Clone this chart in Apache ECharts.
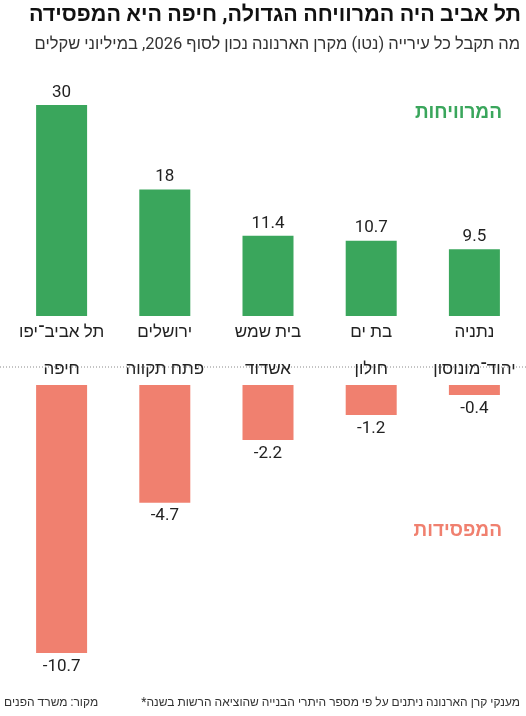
<!DOCTYPE html>
<html>
<head>
<meta charset="utf-8">
<script src="https://cdn.jsdelivr.net/npm/echarts@6/dist/echarts.min.js"></script>
<style>html,body{margin:0;padding:0;background:#fff}#c{width:526px;height:716px}</style>
</head>
<body>
<div id="c"></div>
<script>
// ערים מרוויחות ומפסידות, משמאל לימין כמו בתמונה
var winCities = ['תל אביב־יפו', 'ירושלים', 'בית שמש', 'בת ים', 'נתניה'];
var winValues = [30, 18, 11.4, 10.7, 9.5];
var loseCities = ['חיפה', 'פתח תקווה', 'אשדוד', 'חולון', 'יהוד־מונוסון'];
var loseValues = [-10.7, -4.7, -2.2, -1.2, -0.4];

var FONT = "'Liberation Sans Narrow', 'Roboto', sans-serif";
var GREEN = '#3aa65c';
var RED = '#f0806f';

var chart = echarts.init(document.getElementById('c'));
chart.setOption({
  animation: false,
  textStyle: {fontFamily: FONT},
  grid: [
    {left: 10, width: 520, top: 105, height: 211},
    {left: 10, width: 520, top: 385, height: 268}
  ],
  xAxis: [
    {gridIndex: 0, type: 'category', data: winCities, axisLine: {show: false}, axisTick: {show: false},
     axisLabel: {interval: 0, margin: 8, fontSize: 17, color: '#222', fontFamily: FONT}},
    {gridIndex: 1, type: 'category', data: loseCities, position: 'top', axisLine: {show: false}, axisTick: {show: false},
     axisLabel: {interval: 0, margin: 7, fontSize: 17, color: '#222', fontFamily: FONT}}
  ],
  yAxis: [
    {gridIndex: 0, min: 0, max: 30, show: false},
    {gridIndex: 1, min: -10.7, max: 0, show: false}
  ],
  series: [
    {type: 'bar', xAxisIndex: 0, yAxisIndex: 0, data: winValues, barWidth: 51,
     itemStyle: {color: GREEN},
     label: {show: true, position: 'top', distance: 4, fontSize: 17, color: '#222', fontFamily: FONT}},
    {type: 'bar', xAxisIndex: 1, yAxisIndex: 1, data: loseValues, barWidth: 51,
     itemStyle: {color: RED},
     label: {show: true, position: 'bottom', distance: 5, fontSize: 17, color: '#222', fontFamily: FONT}}
  ],
  graphic: [
    {type: 'text', x: 521, y: 5, style: {text: 'תל אביב היה המרוויחה הגדולה, חיפה היא המפסידה', font: "bold 21.5px " + FONT, fill: '#111', textAlign: 'right'}},
    {type: 'text', x: 520, y: 36, style: {text: 'מה תקבל כל עירייה (נטו) מקרן הארנונה נכון לסוף 2026, במיליוני שקלים', font: "16.5px " + FONT, fill: '#333', textAlign: 'right'}},
    {type: 'text', x: 502, y: 104, style: {text: 'המרוויחות', font: "bold 19px " + FONT, fill: GREEN, textAlign: 'right'}},
    {type: 'text', x: 502, y: 522, style: {text: 'המפסידות', font: "bold 19px " + FONT, fill: RED, textAlign: 'right'}},
    {type: 'line', shape: {x1: 0, y1: 367, x2: 526, y2: 367}, style: {stroke: '#888', lineWidth: 1, lineDash: [1, 2]}},
    {type: 'text', x: 520, y: 697, style: {text: '*מענקי קרן הארנונה ניתנים על פי מספר היתרי הבנייה שהוציאה הרשות בשנה', font: "12px " + FONT, fill: '#333', textAlign: 'right'}},
    {type: 'text', x: 4, y: 697, style: {text: 'מקור: משרד הפנים', font: "12px " + FONT, fill: '#333'}}
  ]
});
</script>
</body>
</html>
